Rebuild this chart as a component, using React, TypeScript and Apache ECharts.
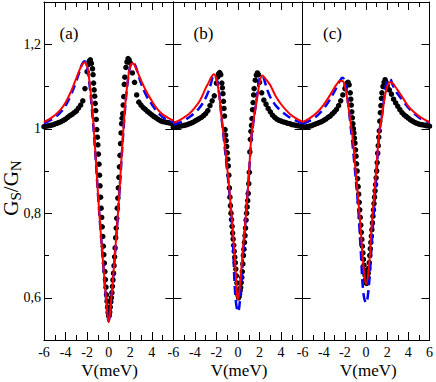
import React, { useEffect, useRef } from 'react';
import * as echarts from 'echarts';

// Experimental bias grid (meV)
const EXP_V = [
  -6, -5.8, -5.6, -5.4, -5.2, -5, -4.8, -4.6, -4.4, -4.2, -4, -3.8, -3.6, -3.4, -3.2, -3, -2.8, -2.6, -2.4, -2.2,
  -2, -1.9, -1.8, -1.7, -1.6,
  -1.5, -1.45, -1.4, -1.35, -1.3, -1.25, -1.2, -1.15, -1.1, -1.05, -1, -0.95, -0.9, -0.85, -0.8, -0.75, -0.7, -0.65, -0.6, -0.55, -0.5, -0.45, -0.4, -0.35, -0.3, -0.25, -0.2, -0.15, -0.1, -0.05, 0,
  0.05, 0.1, 0.15, 0.2, 0.25, 0.3, 0.35, 0.4, 0.45, 0.5, 0.55, 0.6, 0.65, 0.7, 0.75, 0.8, 0.85, 0.9, 0.95, 1, 1.05, 1.1, 1.15, 1.2, 1.25, 1.3, 1.35, 1.4, 1.45, 1.5,
  1.6, 1.7, 1.8, 1.9, 2,
  2.2, 2.4, 2.6, 2.8, 3, 3.2, 3.4, 3.6, 3.8, 4, 4.2, 4.4, 4.6, 4.8, 5, 5.2, 5.4, 5.6, 5.8, 6,
];

const EXP_A = [
  1.005, 1.006, 1.007, 1.008, 1.009, 1.011, 1.013, 1.015, 1.017, 1.02, 1.023, 1.027, 1.031, 1.034, 1.038, 1.042, 1.049, 1.056, 1.066, 1.095,
  1.135, 1.152, 1.16, 1.163, 1.155,
  1.142, 1.128, 1.108, 1.092, 1.077, 1.06, 1.043, 1.022, 0.998, 0.98, 0.962, 0.94, 0.916, 0.89, 0.865, 0.838, 0.812, 0.79, 0.768, 0.745, 0.722, 0.702, 0.682, 0.662, 0.643, 0.625, 0.607, 0.592, 0.578, 0.565, 0.557,
  0.558, 0.566, 0.578, 0.59, 0.6, 0.612, 0.627, 0.642, 0.658, 0.676, 0.697, 0.718, 0.742, 0.765, 0.788, 0.812, 0.836, 0.86, 0.885, 0.91, 0.937, 0.965, 0.99, 1.012, 1.025, 1.036, 1.056, 1.076, 1.105, 1.122,
  1.145, 1.158, 1.166, 1.163, 1.156,
  1.132, 1.11, 1.08, 1.063, 1.056, 1.05, 1.046, 1.041, 1.037, 1.033, 1.029, 1.026, 1.022, 1.019, 1.017, 1.016, 1.015, 1.014, 1.013, 1.012,
];

const EXP_B = [
  1.003, 1.004, 1.005, 1.006, 1.007, 1.008, 1.009, 1.011, 1.013, 1.015, 1.018, 1.021, 1.024, 1.027, 1.031, 1.036, 1.043, 1.055, 1.066, 1.078,
  1.108, 1.122, 1.13, 1.133, 1.128,
  1.108, 1.097, 1.083, 1.065, 1.048, 1.03, 0.998, 0.985, 0.972, 0.958, 0.943, 0.928, 0.912, 0.89, 0.86, 0.838, 0.818, 0.8, 0.785, 0.769, 0.753, 0.739, 0.724, 0.71, 0.696, 0.683, 0.668, 0.652, 0.635, 0.618, 0.606,
  0.6, 0.603, 0.61, 0.617, 0.624, 0.636, 0.648, 0.662, 0.68, 0.7, 0.715, 0.731, 0.747, 0.765, 0.784, 0.8, 0.815, 0.83, 0.847, 0.87, 0.897, 0.945, 0.975, 0.994, 1.008, 1.024, 1.045, 1.062, 1.08, 1.095,
  1.115, 1.127, 1.132, 1.128, 1.11,
  1.085, 1.068, 1.058, 1.048, 1.04, 1.032, 1.027, 1.023, 1.02, 1.018, 1.016, 1.015, 1.013, 1.012, 1.01, 1.009, 1.008, 1.007, 1.006, 1.005,
];

const EXP_C = [
  1.003, 1.004, 1.005, 1.006, 1.007, 1.009, 1.011, 1.013, 1.015, 1.017, 1.02, 1.023, 1.027, 1.03, 1.035, 1.04, 1.046, 1.055, 1.066, 1.08,
  1.095, 1.102, 1.108, 1.11, 1.104,
  1.085, 1.07, 1.056, 1.04, 1.026, 1.012, 1.0, 0.99, 0.978, 0.966, 0.95, 0.935, 0.917, 0.9, 0.882, 0.863, 0.845, 0.826, 0.808, 0.79, 0.772, 0.755, 0.738, 0.722, 0.706, 0.691, 0.677, 0.665, 0.654, 0.643, 0.636,
  0.634, 0.639, 0.648, 0.658, 0.67, 0.683, 0.7, 0.716, 0.731, 0.746, 0.761, 0.777, 0.793, 0.808, 0.823, 0.838, 0.853, 0.868, 0.884, 0.9, 0.92, 0.942, 0.96, 0.98, 0.995, 1.018, 1.038, 1.055, 1.072, 1.085,
  1.1, 1.11, 1.116, 1.11, 1.102,
  1.092, 1.082, 1.07, 1.061, 1.053, 1.045, 1.038, 1.033, 1.029, 1.025, 1.021, 1.018, 1.015, 1.013, 1.011, 1.01, 1.009, 1.008, 1.007, 1.006,
];

// Theoretical fits grid (meV)
const FIT_V = [-6, -5.5, -5, -4.5, -4, -3.5, -3, -2.75, -2.5, -2.25, -2, -1.75, -1.5, -1.25, -1, -0.75, -0.5, -0.25, 0,
  0.25, 0.5, 0.75, 1, 1.25, 1.5, 1.75, 2, 2.25, 2.5, 2.75, 3, 3.5, 4, 4.5, 5, 5.5, 6];

const RED_A = [1.016, 1.023, 1.032, 1.044, 1.062, 1.088, 1.12, 1.136, 1.15, 1.157, 1.148, 1.104, 1.04, 0.95, 0.85, 0.758, 0.678, 0.602, 0.542,
  0.6, 0.678, 0.76, 0.852, 0.955, 1.045, 1.11, 1.148, 1.155, 1.145, 1.13, 1.115, 1.088, 1.066, 1.047, 1.034, 1.026, 1.02];
const BLUE_A = [1.013, 1.019, 1.027, 1.038, 1.055, 1.08, 1.113, 1.132, 1.151, 1.16, 1.145, 1.098, 1.03, 0.945, 0.848, 0.758, 0.678, 0.6, 0.545,
  0.598, 0.676, 0.758, 0.85, 0.95, 1.04, 1.107, 1.148, 1.158, 1.148, 1.128, 1.108, 1.078, 1.058, 1.04, 1.028, 1.02, 1.015];

const RED_B = [1.014, 1.019, 1.027, 1.036, 1.05, 1.068, 1.096, 1.108, 1.121, 1.129, 1.118, 1.08, 1.02, 0.968, 0.908, 0.84, 0.765, 0.675, 0.595,
  0.652, 0.728, 0.8, 0.888, 0.985, 1.03, 1.068, 1.108, 1.126, 1.12, 1.112, 1.103, 1.077, 1.058, 1.043, 1.031, 1.023, 1.016];
const BLUE_B = [1.01, 1.014, 1.02, 1.028, 1.038, 1.052, 1.073, 1.088, 1.108, 1.126, 1.12, 1.083, 1.02, 0.96, 0.9, 0.835, 0.75, 0.605, 0.567,
  0.615, 0.715, 0.8, 0.885, 0.98, 1.028, 1.075, 1.118, 1.126, 1.11, 1.09, 1.075, 1.055, 1.042, 1.032, 1.024, 1.018, 1.013];

const RED_C = [1.016, 1.022, 1.031, 1.042, 1.057, 1.076, 1.097, 1.106, 1.113, 1.113, 1.1, 1.065, 1.02, 0.975, 0.905, 0.836, 0.758, 0.676, 0.632,
  0.668, 0.76, 0.838, 0.915, 0.994, 1.028, 1.073, 1.1, 1.11, 1.108, 1.1, 1.091, 1.072, 1.053, 1.04, 1.03, 1.022, 1.016];
const BLUE_C = [1.012, 1.017, 1.024, 1.034, 1.048, 1.066, 1.088, 1.1, 1.112, 1.121, 1.112, 1.07, 1.015, 0.955, 0.888, 0.815, 0.71, 0.61, 0.588,
  0.625, 0.715, 0.81, 0.9, 0.99, 1.03, 1.08, 1.115, 1.118, 1.105, 1.092, 1.082, 1.066, 1.05, 1.037, 1.027, 1.02, 1.015];

const Y_MAJOR = [0.6, 0.8, 1, 1.2];
const Y_MINOR = [0.7, 0.9, 1.1];
const PANEL_LABELS = ['(a)', '(b)', '(c)'];
const X_TITLE = 'V(meV)';

const SERIF = 'Liberation Serif';

function buildOption() {
  const L = 44, R = 432, T = 2, B = 340;
  const W = (R - L) / 3;
  const panels = [
    { exp: EXP_A, red: RED_A, blue: BLUE_A },
    { exp: EXP_B, red: RED_B, blue: BLUE_B },
    { exp: EXP_C, red: RED_C, blue: BLUE_C },
  ];
  const lineStyle = { color: '#000', width: 1 };
  const grids: any[] = [];
  const xAxes: any[] = [];
  const yAxes: any[] = [];
  const series: any[] = [];
  const graphics: any[] = [];

  panels.forEach((p, i) => {
    const left = L + i * W;
    grids.push({ left, top: T, width: W, height: B - T });
    const xb = xAxes.length;
    const xBase = {
      gridIndex: i, type: 'value', min: -6, max: 6, interval: 2,
      axisLine: { show: true, onZero: false, lineStyle },
      axisTick: { show: true, inside: true, length: 8, lineStyle },
      minorTick: { show: true, splitNumber: 2, length: 5, lineStyle },
      splitLine: { show: false }, minorSplitLine: { show: false },
    };
    xAxes.push({
      ...xBase, position: 'bottom',
      axisLabel: {
        show: true, margin: 5, color: '#000', fontFamily: SERIF, fontSize: 14,
        showMinLabel: true, showMaxLabel: true,
        formatter: (v: number) => (i < 2 && v === 6 ? '' : String(v)),
      },
    });
    xAxes.push({ ...xBase, position: 'top', axisLabel: { show: false } });

    const yl = yAxes.length;
    const yBase = { gridIndex: i, type: 'value', min: 0.5, max: 1.3, splitLine: { show: false } };
    yAxes.push({
      ...yBase, position: 'left',
      axisLine: { show: true, onZero: false, lineStyle },
      axisTick: { show: true, inside: true, length: 8, lineStyle, customValues: Y_MAJOR },
      axisLabel: {
        show: i === 0, customValues: Y_MAJOR, margin: 3, color: '#000', fontFamily: SERIF, fontSize: 14,
        formatter: (v: number) => {
          const s = v.toFixed(1).replace('.', ',');
          return s.endsWith(',0') ? s.slice(0, -2) : s;
        },
      },
    });
    yAxes.push({
      ...yBase, position: 'left',
      axisLine: { show: false, onZero: false },
      axisTick: { show: true, inside: true, length: 5, lineStyle, customValues: Y_MINOR },
      axisLabel: { show: false },
    });
    yAxes.push({
      ...yBase, position: 'right',
      axisLine: { show: true, onZero: false, lineStyle },
      axisTick: { show: true, inside: true, length: 8, lineStyle, customValues: Y_MAJOR },
      axisLabel: { show: false },
    });
    yAxes.push({
      ...yBase, position: 'right',
      axisLine: { show: false, onZero: false },
      axisTick: { show: true, inside: true, length: 5, lineStyle, customValues: Y_MINOR },
      axisLabel: { show: false },
    });

    series.push({
      type: 'scatter', xAxisIndex: xb, yAxisIndex: yl, symbol: 'circle', symbolSize: 5.5,
      itemStyle: { color: '#000', opacity: 1 }, data: EXP_V.map((v, k) => [v, p.exp[k]]), z: 2,
    });
    series.push({
      type: 'line', xAxisIndex: xb, yAxisIndex: yl, showSymbol: false, symbol: 'none', smooth: 0.4,
      lineStyle: { color: '#0000ff', width: 2.5, type: [9, 5] }, data: FIT_V.map((v, k) => [v, p.blue[k]]), z: 3,
    });
    series.push({
      type: 'line', xAxisIndex: xb, yAxisIndex: yl, showSymbol: false, symbol: 'none', smooth: 0.4,
      lineStyle: { color: '#ff0000', width: 2 }, data: FIT_V.map((v, k) => [v, p.red[k]]), z: 4,
    });

    const labelX = [69, 203.5, 332.5][i];
    graphics.push({
      type: 'text', x: labelX, y: 33,
      style: { text: PANEL_LABELS[i], fill: '#000', fontFamily: SERIF, fontSize: 17,
        align: 'center', verticalAlign: 'middle', textAlign: 'center', textVerticalAlign: 'middle' },
    });
    graphics.push({
      type: 'text', x: left + W / 2 + 1, y: 370,
      style: { text: X_TITLE, fill: '#000', fontFamily: SERIF, fontSize: 17,
        align: 'center', verticalAlign: 'middle', textAlign: 'center', textVerticalAlign: 'middle' },
    });
  });

  // rotated y-axis title G_S/G_N
  const big = 21, small = 15;
  const parts = [
    { t: 'G', fs: big, dy: 0 },
    { t: 'S', fs: small, dy: 5 },
    { t: '/G', fs: big, dy: 0 },
    { t: 'N', fs: small, dy: 5 },
  ];
  const widths = [0.722 * big, 0.556 * small, (0.278 + 0.722) * big, 0.722 * small];
  const total = widths.reduce((a, b) => a + b, 0);
  let cx = -total / 2;
  const children: any[] = [];
  parts.forEach((pt, k) => {
    children.push({
      type: 'text', x: cx, y: pt.dy,
      style: { text: pt.t, fill: '#000', fontFamily: SERIF, fontSize: pt.fs,
        align: 'left', verticalAlign: 'middle', textAlign: 'left', textVerticalAlign: 'middle' },
    });
    cx += widths[k];
  });
  graphics.push({ type: 'group', x: 11, y: 188, rotation: Math.PI / 2, children });

  return {
    animation: false,
    backgroundColor: '#fff',
    textStyle: { fontFamily: SERIF },
    grid: grids,
    xAxis: xAxes,
    yAxis: yAxes,
    series,
    graphic: graphics,
  };
}

export default function App() {
  const ref = useRef<HTMLDivElement>(null);
  useEffect(() => {
    if (!ref.current) return;
    const chart = echarts.init(ref.current, null, { renderer: 'svg' });
    chart.setOption(buildOption() as any);
    return () => chart.dispose();
  }, []);
  return (
    <div
      ref={ref}
      style={{ position: 'fixed', left: 0, top: 0, width: 436, height: 382, background: '#fff' }}
    />
  );
}
